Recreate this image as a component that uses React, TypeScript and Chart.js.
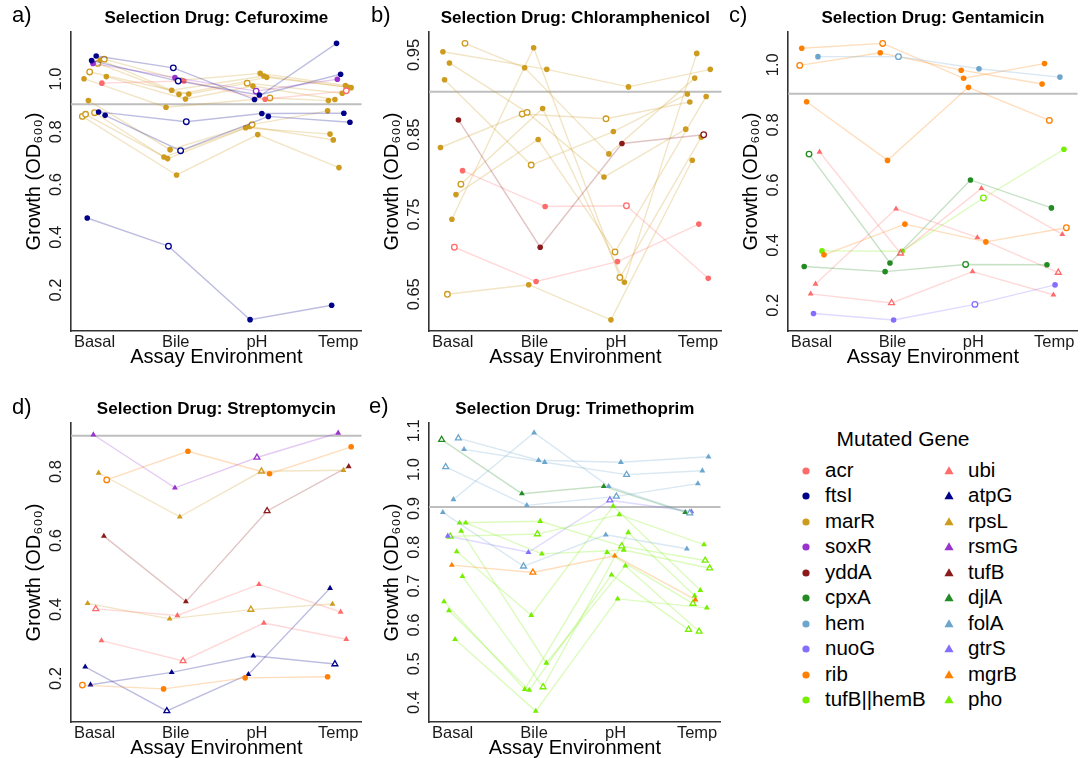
import React, { useEffect, useRef } from 'react';
import { Chart, registerables } from 'chart.js';

Chart.register(...registerables);

const FONT = '"Liberation Sans", Arial, Helvetica, sans-serif';

// ---------------- data ----------------
const environments = ['Basal', 'Bile', 'pH', 'Temp'];
const envPositions = [1, 2, 3, 4];
const neutralGrowth = 0.904;

const circleGenes = ['acr', 'ftsI', 'marR', 'soxR', 'yddA', 'cpxA', 'hem', 'nuoG', 'rib', 'tufB||hemB'];
const triangleGenes = ['ubi', 'atpG', 'rpsL', 'rsmG', 'tufB', 'djlA', 'folA', 'gtrS', 'mgrB', 'pho'];
const geneColorList = ['#FF6B6B', '#00008B', '#CD9B1D', '#9A32CD', '#8B1A1A', '#228B22', '#6CA6CD', '#836FFF', '#FF7F00', '#76EE00'];

// row: gene, growth [Basal, Bile, pH, Temp], jitter offsets, hollow marker flags
type Strain = [string, number[], number[], number[]];

const cefuroxime: Strain[] = [
  ['ftsI', [1.087, 1.042, 0.922, 1.135], [0.02, -0.03, -0.03, -0.02], [0, 1, 0, 0]],
  ['ftsI', [1.0695, 0.992, 0.939, 1.018], [-0.036, 0.03, 0.03, 0.03], [0, 1, 0, 0]],
  ['ftsI', [0.875, 0.838, 0.869, 0.870], [0.05, 0.13, 0.06, 0.07], [0, 1, 0, 0]],
  ['ftsI', [0.862, 0.728, 0.858, 0.836], [0.13, 0.06, 0.14, 0.145], [0, 1, 0, 0]],
  ['ftsI', [0.473, 0.366, 0.0875, 0.142], [-0.09, -0.09, -0.085, -0.08], [0, 1, 0, 0]],
  ['soxR', [1.059, 1.005, 0.954, 0.999], [-0.02, -0.01, -0.01, -0.01], [0, 0, 1, 0]],
  ['acr', [0.984, 0.992, 0.923, 0.955], [0.09, 0.1, 0.1, 0.1], [0, 0, 0, 1]],
  ['marR', [1.075, 0.995, 1.021, 0.975], [0.12, 0.07, 0.04, 0.09], [1, 0, 0, 0]],
  ['marR', [1.072, 0.957, 1.011, 0.968], [0.07, -0.05, 0.085, 0.13], [0, 0, 0, 0]],
  ['marR', [1.059, 0.942, 1.006, 0.967], [0.04, 0.04, 0.12, 0.16], [1, 0, 0, 0]],
  ['marR', [1.0265, 0.943, 0.984, 0.946], [-0.06, 0.16, -0.12, 0.05], [1, 0, 1, 0]],
  ['marR', [1.009, 0.924, 0.973, 0.922], [0.145, 0.12, -0.05, -0.04], [0, 0, 0, 0]],
  ['marR', [1.001, 0.893, 0.928, 0.918], [-0.13, -0.12, 0.16, -0.12], [0, 0, 1, 0]],
  ['marR', [0.918, 0.732, 0.827, 0.879], [-0.076, -0.07, -0.06, -0.13], [0, 0, 1, 0]],
  ['marR', [0.872, 0.704, 0.815, 0.791], [0, -0.145, -0.14, -0.1], [1, 0, 0, 0]],
  ['marR', [0.866, 0.698, 0.820, 0.769], [-0.11, -0.1, -0.09, -0.06], [1, 0, 0, 0]],
  ['marR', [0.858, 0.636, 0.789, 0.664], [-0.15, 0.01, 0.01, 0.01], [1, 0, 0, 0]],
];

const chloramphenicol: Strain[] = [
  ['yddA', [0.8685, 0.709, 0.839, 0.850], [0.07, 0.07, 0.07, 0.07], [0, 0, 0, 1]],
  ['acr', [0.805, 0.760, 0.761, 0.670], [0.12, 0.13, 0.125, 0.125], [0, 0, 1, 0]],
  ['acr', [0.709, 0.666, 0.691, 0.738], [0.02, 0.02, 0.015, 0.01], [1, 0, 0, 0]],
  ['marR', [0.954, 0.932, 0.910, 0.932], [-0.12, 0.15, 0.15, 0.15], [0, 0, 0, 0]],
  ['marR', [0.9646, 0.934, 0.826, 0.921], [0.15, -0.12, -0.09, -0.04], [1, 0, 0, 0]],
  ['marR', [0.940, 0.878, 0.797, 0.857], [-0.04, -0.09, -0.15, -0.15], [0, 1, 0, 0]],
  ['marR', [0.919, 0.812, 0.854, 0.901], [-0.1, -0.04, -0.035, -0.13], [0, 1, 0, 0]],
  ['marR', [0.834, 0.876, 0.870, 0.891], [-0.15, -0.15, -0.125, -0.1], [0, 1, 1, 0]],
  ['marR', [0.788, 0.883, 0.665, 0.952], [0.1, 0.1, 0.1, -0.015], [1, 0, 0, 0]],
  ['marR', [0.775, 0.844, 0.703, 0.898], [0.04, 0.045, -0.015, 0.1], [0, 0, 1, 0]],
  ['marR', [0.744, 0.959, 0.671, 0.847], [-0.01, -0.01, 0.045, 0.04], [0, 0, 1, 0]],
  ['marR', [0.650, 0.662, 0.618, 0.818], [-0.065, -0.07, -0.065, -0.07], [1, 0, 0, 0]],
];

const gentamicin: Strain[] = [
  ['hem', [1.027, 1.027, 0.987, 0.959], [0.08, 0.075, 0.07, 0.07], [0, 1, 0, 0]],
  ['rib', [1.055, 1.071, 0.955, 1.004], [-0.12, -0.12, -0.12, -0.12], [0, 1, 0, 0]],
  ['rib', [0.998, 1.040, 0.982, 0.936], [-0.145, -0.15, -0.15, -0.15], [1, 0, 0, 0]],
  ['rib', [0.877, 0.682, 0.925, 0.815], [-0.06, -0.06, -0.06, -0.06], [0, 0, 0, 1]],
  ['rib', [0.368, 0.470, 0.411, 0.458], [0.155, 0.155, 0.155, 0.15], [0, 0, 0, 1]],
  ['cpxA', [0.703, 0.341, 0.617, 0.524], [-0.03, -0.03, -0.035, -0.035], [1, 0, 0, 0]],
  ['cpxA', [0.329, 0.312, 0.336, 0.335], [-0.09, -0.09, -0.095, -0.09], [0, 0, 1, 0]],
  ['ubi', [0.710, 0.373, 0.589, 0.436], [0.1, 0.1, 0.1, 0.1], [0, 1, 0, 0]],
  ['ubi', [0.271, 0.521, 0.425, 0.309], [0.05, 0.045, 0.05, 0.05], [0, 0, 0, 1]],
  ['ubi', [0.238, 0.208, 0.312, 0.235], [-0.01, -0.01, -0.01, -0.01], [0, 1, 0, 0]],
  ['tufB||hemB', [0.381, 0.380, 0.557, 0.719], [0.13, 0.12, 0.125, 0.12], [0, 0, 1, 0]],
  ['nuoG', [0.173, 0.151, 0.203, 0.268], [0.025, 0.015, 0.02, 0.01], [0, 0, 1, 0]],
];

const streptomycin: Strain[] = [
  ['rsmG', [0.907, 0.753, 0.841, 0.912], [-0.015, -0.01, 0, 0], [0, 0, 1, 0]],
  ['rib', [0.776, 0.859, 0.794, 0.872], [0.15, 0.15, 0.155, 0.16], [1, 0, 0, 0]],
  ['rib', [0.181, 0.170, 0.202, 0.205], [-0.15, -0.15, -0.145, -0.13], [1, 0, 0, 0]],
  ['rpsL', [0.796, 0.669, 0.801, 0.804], [0.05, 0.05, 0.055, 0.065], [0, 0, 1, 0]],
  ['rpsL', [0.418, 0.373, 0.400, 0.416], [-0.085, -0.075, -0.075, -0.07], [0, 0, 1, 0]],
  ['tufB', [0.613, 0.423, 0.686, 0.815], [0.115, 0.125, 0.125, 0.13], [0, 0, 1, 0]],
  ['ubi', [0.402, 0.383, 0.473, 0.393], [0.015, 0.02, 0.025, 0.03], [1, 0, 0, 0]],
  ['ubi', [0.310, 0.251, 0.361, 0.314], [0.085, 0.09, 0.085, 0.1], [0, 1, 0, 0]],
  ['atpG', [0.234, 0.106, 0.212, 0.462], [-0.115, -0.11, -0.105, -0.1], [0, 1, 0, 0]],
  ['atpG', [0.182, 0.218, 0.266, 0.242], [-0.05, -0.05, -0.045, -0.04], [0, 0, 0, 1]],
];

const trimethoprim: Strain[] = [
  ['folA', [1.081, 1.024, 1.019, 1.033], [0.07, 0.055, 0.065, 0.14], [1, 0, 0, 0]],
  ['folA', [1.052, 1.019, 0.987, 0.997], [0.14, 0.13, 0.135, 0.065], [0, 0, 1, 0]],
  ['folA', [1.007, 0.908, 0.931, 0.964], [-0.085, -0.09, 0.01, 0.01], [1, 0, 1, 0]],
  ['folA', [0.923, 1.095, 0.957, 0.888], [0.01, 0, -0.085, -0.09], [0, 0, 0, 1]],
  ['folA', [0.890, 0.751, 0.832, 0.796], [-0.12, -0.13, -0.12, -0.125], [0, 1, 0, 0]],
  ['djlA', [1.077, 0.938, 0.957, 0.890], [-0.135, -0.15, -0.145, -0.145], [1, 0, 0, 0]],
  ['gtrS', [0.829, 0.787, 0.921, 0.892], [-0.06, -0.07, -0.07, -0.07], [0, 0, 1, 0]],
  ['mgrB', [0.754, 0.735, 0.778, 0.665], [-0.01, -0.015, -0.01, -0.02], [0, 1, 0, 0]],
  ['pho', [0.828, 0.834, 0.884, 0.807], [-0.03, 0.04, 0.045, 0.085], [1, 1, 0, 0]],
  ['pho', [0.863, 0.867, 0.803, 0.766], [0.085, 0.075, 0.075, 0.1], [0, 0, 1, 1]],
  ['pho', [0.863, 0.783, 0.793, 0.746], [0.16, 0.095, 0.1, 0.155], [0, 0, 0, 1]],
  ['pho', [0.842, 0.502, 0.752, 0.583], [0.105, 0.15, 0.12, 0.025], [0, 0, 0, 1]],
  ['pho', [0.789, 0.625, 0.906, 0.689], [0.05, -0.035, -0.03, 0.04], [0, 0, 0, 0]],
  ['pho', [0.725, 0.440, 0.838, 0.675], [0.12, 0.11, 0.155, -0.03], [0, 1, 0, 0]],
  ['pho', [0.660, 0.434, 0.787, 0.655], [-0.105, -0.115, -0.105, -0.05], [0, 0, 0, 1]],
  ['pho', [0.637, 0.432, 0.729, 0.588], [-0.045, -0.06, -0.05, -0.105], [0, 0, 0, 1]],
  ['pho', [0.563, 0.378, 0.667, 0.644], [0.03, 0.02, 0.025, 0.12], [0, 0, 0, 0]],
];

const cefuroximeTicks = [0.2, 0.4, 0.6, 0.8, 1.0];
const cefuroximeTickLabels = ['0.2', '0.4', '0.6', '0.8', '1.0'];
const chloramphenicolTicks = [0.65, 0.75, 0.85, 0.95];
const chloramphenicolTickLabels = ['0.65', '0.75', '0.85', '0.95'];
const gentamicinTicks = [0.2, 0.4, 0.6, 0.8, 1.0];
const gentamicinTickLabels = ['0.2', '0.4', '0.6', '0.8', '1.0'];
const streptomycinTicks = [0.2, 0.4, 0.6, 0.8];
const streptomycinTickLabels = ['0.2', '0.4', '0.6', '0.8'];
const trimethoprimTicks = [0.4, 0.5, 0.6, 0.7, 0.8, 0.9, 1.0, 1.1];
const trimethoprimTickLabels = ['0.4', '0.5', '0.6', '0.7', '0.8', '0.9', '1.0', '1.1'];

// ---------------- layout ----------------
const X_MIN = 0.71;
const X_MAX = 4.29;
const Y_AXIS_W = 71;
const X_AXIS_H = 41;
const CANVAS_H = 372;

interface PanelSpec {
  title: string;
  tag: string;
  strains: Strain[];
  ticks: number[];
  tickLabels: string[];
  yMin: number;
  yMax: number;
  left: number;
  top: number;
  plotW: number;
  tagLeft: number;
  tagTop: number;
}

const panels: PanelSpec[] = [
  { title: 'Selection Drug: Cefuroxime', tag: 'a)', strains: cefuroxime, ticks: cefuroximeTicks, tickLabels: cefuroximeTickLabels, yMin: 0.0445, yMax: 1.178, left: 0, top: 0, plotW: 296, tagLeft: 12, tagTop: 22 },
  { title: 'Selection Drug: Chloramphenicol', tag: 'b)', strains: chloramphenicol, ticks: chloramphenicolTicks, tickLabels: chloramphenicolTickLabels, yMin: 0.604, yMax: 0.9788, left: 358, top: 0, plotW: 298, tagLeft: 371, tagTop: 22 },
  { title: 'Selection Drug: Gentamicin', tag: 'c)', strains: gentamicin, ticks: gentamicinTicks, tickLabels: gentamicinTickLabels, yMin: 0.1146, yMax: 1.109, left: 717, top: 0, plotW: 295, tagLeft: 729, tagTop: 22 },
  { title: 'Selection Drug: Streptomycin', tag: 'd)', strains: streptomycin, ticks: streptomycinTicks, tickLabels: streptomycinTickLabels, yMin: 0.074, yMax: 0.941, left: 0, top: 391, plotW: 296, tagLeft: 12, tagTop: 414 },
  { title: 'Selection Drug: Trimethoprim', tag: 'e)', strains: trimethoprim, ticks: trimethoprimTicks, tickLabels: trimethoprimTickLabels, yMin: 0.350, yMax: 1.120, left: 358, top: 391, plotW: 297, tagLeft: 369, tagTop: 413 },
];

function colorOf(gene: string): string {
  let i = circleGenes.indexOf(gene);
  if (i < 0) i = triangleGenes.indexOf(gene);
  return geneColorList[i];
}

function PanelChart({ spec }: { spec: PanelSpec }) {
  const ref = useRef<HTMLCanvasElement | null>(null);
  const width = Y_AXIS_W + spec.plotW;

  useEffect(() => {
    const canvas = ref.current;
    if (!canvas) return;
    const meas = document.createElement('canvas').getContext('2d')!;
    meas.font = `16.5px ${FONT}`;
    const widest = Math.max(...spec.tickLabels.map((l) => meas.measureText(l).width));
    const yTickPad = 15 - widest / 2;

    const strainSets = spec.strains.map(([gene, vals, dx, open]) => {
      const c = colorOf(gene);
      const tri = triangleGenes.includes(gene);
      return {
        label: gene,
        data: vals.map((v, i) => ({ x: envPositions[i] + dx[i], y: v })),
        borderColor: c + '42',
        borderWidth: 1.4,
        pointStyle: tri ? 'triangle' : 'circle',
        pointRadius: tri ? 3.4 : 2.8,
        pointBackgroundColor: open.map((o) => (o ? '#ffffff' : c)),
        pointBorderColor: c,
        pointBorderWidth: open.map((o) => (o ? 1.3 : 0)),
        tension: 0,
        order: 1,
      };
    });

    const refLine = {
      label: 'reference',
      data: [
        { x: X_MIN, y: neutralGrowth },
        { x: X_MAX, y: neutralGrowth },
      ],
      borderColor: '#BEBEBE',
      borderWidth: 2,
      pointRadius: 0,
      order: 5,
    };

    const chart = new Chart(canvas, {
      type: 'line',
      data: { datasets: [refLine, ...strainSets] as any },
      options: {
        animation: false,
        responsive: false,
        maintainAspectRatio: false,
        devicePixelRatio: 1,
        events: [],
        layout: { padding: 0 },
        plugins: {
          legend: { display: false },
          tooltip: { enabled: false },
          title: {
            display: true,
            fullSize: false,
            text: spec.title,
            color: '#000',
            font: { family: FONT, size: 17, weight: 'bold' },
            padding: { top: 8, bottom: 3.6 },
          },
        },
        scales: {
          x: {
            type: 'linear',
            min: X_MIN,
            max: X_MAX,
            afterBuildTicks: (s: any) => {
              s.ticks = envPositions.map((v) => ({ value: v }));
            },
            afterFit: (s: any) => {
              s.height = X_AXIS_H;
            },
            ticks: {
              autoSkip: false,
              maxRotation: 0,
              minRotation: 0,
              padding: 2,
              color: '#1a1a1a',
              font: { family: FONT, size: 16.5 },
              callback: (_v: any, i: number) => environments[i],
            },
            grid: { display: true, drawOnChartArea: false, drawTicks: false },
            border: { display: true, color: '#333', width: 1.6 },
            title: {
              display: true,
              text: 'Assay Environment',
              color: '#000',
              font: { family: FONT, size: 20 },
              padding: { top: 0, bottom: 3 },
            },
          },
          y: {
            type: 'linear',
            min: spec.yMin,
            max: spec.yMax,
            afterBuildTicks: (s: any) => {
              s.ticks = spec.ticks.map((v) => ({ value: v }));
            },
            afterFit: (s: any) => {
              s.width = Y_AXIS_W;
            },
            ticks: {
              autoSkip: false,
              minRotation: 90,
              maxRotation: 90,
              crossAlign: 'center',
              padding: yTickPad,
              color: '#1a1a1a',
              font: { family: FONT, size: 16.5 },
              callback: (_v: any, i: number) => spec.tickLabels[i],
            },
            grid: { display: true, drawOnChartArea: false, drawTicks: false },
            border: { display: true, color: '#333', width: 1.6 },
            title: {
              display: true,
              text: 'Growth (OD₆₀₀)',
              color: '#000',
              font: { family: FONT, size: 20 },
              padding: { top: 22, bottom: 0 },
            },
          },
        },
      } as any,
    });
    return () => chart.destroy();
  }, [spec]);

  return (
    <canvas
      ref={ref}
      width={width}
      height={CANVAS_H}
      style={{ position: 'absolute', left: spec.left, top: spec.top, width, height: CANVAS_H }}
    />
  );
}

function Marker({ gene, x, y }: { gene: string; x: number; y: number }) {
  const c = colorOf(gene);
  const tri = triangleGenes.includes(gene);
  return (
    <svg
      width={14}
      height={14}
      style={{ position: 'absolute', left: x - 7, top: y - 7 }}
      viewBox="0 0 14 14"
    >
      {tri ? <polygon points="7,2.2 11.6,10.2 2.4,10.2" fill={c} /> : <circle cx={7} cy={7} r={3.6} fill={c} />}
    </svg>
  );
}

function Legend() {
  const rowY0 = 470.7;
  const rowStep = 25.5;
  const cols = [
    { genes: circleGenes, markerX: 806, textX: 825 },
    { genes: triangleGenes, markerX: 949, textX: 968 },
  ];
  return (
    <>
      <div
        style={{
          position: 'absolute',
          left: 803,
          width: 200,
          top: 426,
          textAlign: 'center',
          font: `21px ${FONT}`,
          lineHeight: '26px',
          color: '#000',
          whiteSpace: 'nowrap',
        }}
      >
        Mutated Gene
      </div>
      {cols.map((col, ci) =>
        col.genes.map((g, i) => {
          const y = rowY0 + i * rowStep;
          return (
            <React.Fragment key={`${ci}-${g}`}>
              <Marker gene={g} x={col.markerX} y={y} />
              <div
                style={{
                  position: 'absolute',
                  left: col.textX,
                  top: y - 13,
                  font: `20.5px ${FONT}`,
                  lineHeight: '24px',
                  color: '#000',
                  whiteSpace: 'nowrap',
                }}
              >
                {g}
              </div>
            </React.Fragment>
          );
        })
      )}
    </>
  );
}

export default function App() {
  return (
    <div
      style={{
        position: 'absolute',
        left: 0,
        top: 0,
        width: 1083,
        height: 758,
        overflow: 'hidden',
        background: '#fff',
      }}
    >
      {panels.map((p) => (
        <PanelChart key={p.tag} spec={p} />
      ))}
      {panels.map((p) => (
        <div
          key={'tag' + p.tag}
          style={{
            position: 'absolute',
            left: p.tagLeft,
            top: p.tagTop - 18,
            font: `22px ${FONT}`,
            lineHeight: '22px',
            color: '#000',
          }}
        >
          {p.tag}
        </div>
      ))}
      <Legend />
    </div>
  );
}
